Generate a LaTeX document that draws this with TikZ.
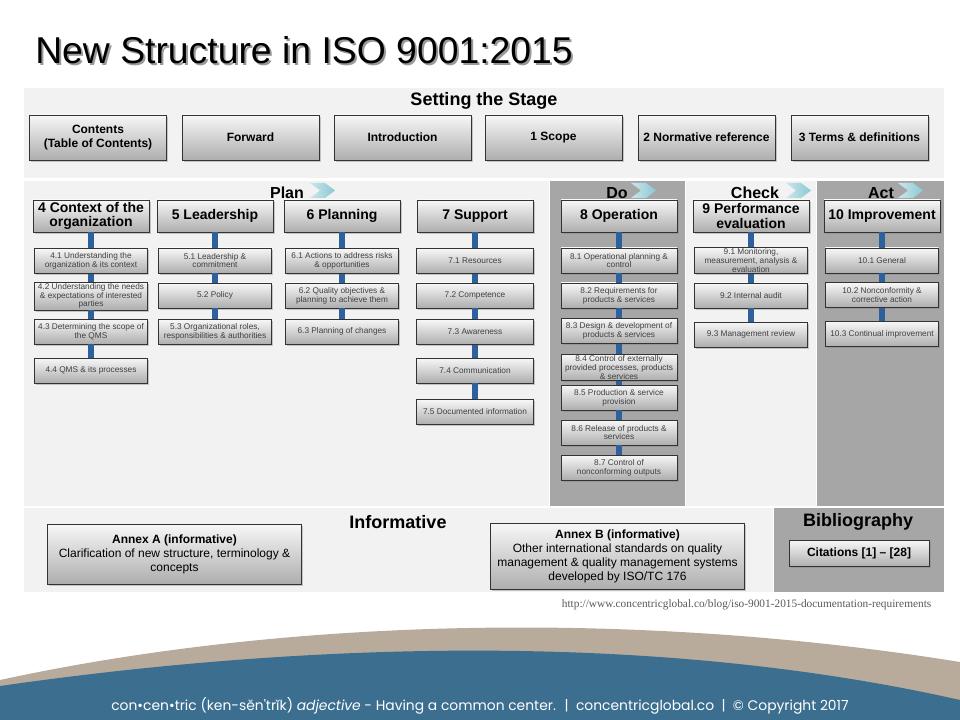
\documentclass[tikz,border=0pt]{standalone}
\usepackage{fontspec}
\setmainfont{Liberation Sans}
\newfontfamily\footfont{Poppins}
\newfontfamily\webfont{Liberation Serif}
\usetikzlibrary{shadows}
\definecolor{panellight}{RGB}{242,242,242}
\definecolor{paneldark}{RGB}{166,166,166}
\definecolor{spineblue}{RGB}{46,96,155}
\definecolor{chevroncol}{RGB}{140,200,212}
\definecolor{footblue}{RGB}{59,110,143}
\definecolor{footbeige}{RGB}{184,171,156}

\begin{document}
\begin{tikzpicture}
    [x=0.75pt,y=-0.75pt,
     box/.style={draw=black!80,line width=0.6pt,top color=black!3,bottom color=black!32,
       drop shadow={shadow xshift=1.2pt,shadow yshift=-1.2pt,opacity=0.4},
       align=center,inner sep=1pt},
     stagebox/.style={box,minimum width=102.75pt,minimum height=33.75pt,font=\fontsize{9}{10.5}\selectfont\bfseries},
     clause/.style={box,minimum width=87pt,minimum height=24pt,font=\fontsize{10.5}{11}\selectfont\bfseries},
     sub/.style={box,minimum width=85pt,minimum height=18.75pt,text=black!75,font=\fontsize{6.2}{6.6}\selectfont},
     annex/.style={box,minimum width=190pt,font=\fontsize{9}{10.5}\selectfont},
     spine/.style={spineblue,line width=4.5pt},
     heading/.style={font=\fontsize{13.5}{15}\selectfont\bfseries},
     phase/.style={font=\fontsize{12}{13}\selectfont\bfseries},
     chevron/.style={left color=chevroncol!45!white,right color=chevroncol}]

    \useasboundingbox (0,0) rectangle (960,720);
    \fill[white] (0,0) rectangle (960,720);

    \fill[panellight] (24,88) rectangle (944,178);
    \fill[panellight] (24,181) rectangle (549,506);
    \fill[paneldark] (550,181) rectangle (685,506);
    \fill[panellight] (686,181) rectangle (816,506);
    \fill[paneldark] (817,181) rectangle (944,506);
    \fill[panellight] (24,508) rectangle (773,592);
    \fill[paneldark] (774,508) rectangle (944,592);

    \node[anchor=base west,inner sep=0pt,font=\fontsize{28}{32}\selectfont,text=black!40] (title-shadow) at (37,66) {New Structure in ISO 9001:2015};
    \node[anchor=base west,inner sep=0pt,font=\fontsize{28}{32}\selectfont] (title) at (35,64) {New Structure in ISO 9001:2015};

    \node[heading] (stage) at (484,101) {Setting the Stage};
    \foreach \name/\x/\txt in {contents/98/{Contents\\(Table of Contents)}, forward/250.5/Forward,
        intro/402.5/Introduction, scope/553.5/1 Scope, normref/706.5/2 Normative reference,
        terms/859.5/3 Terms \& definitions}
      \node[stagebox] (\name) at (\x,137.5) {\txt};

    \foreach \name/\txt/\x/\cx in {plan/Plan/287/310, do/Do/617/631, check/Check/755/786, act/Act/881/898}
    {
      \node[phase] (\name) at (\x,193) {\txt};
      \shade[chevron] (\cx,183) -- ++(15,0) -- ++(10,7.5) -- ++(-10,7.5) -- ++(-15,0) -- ++(10,-7.5) -- cycle;
    }

    \foreach \name/\x/\txt in {4/91/{4 Context of the\\organization}, 5/215/5 Leadership, 6/342/6 Planning,
        7/475/7 Support, 8/619/8 Operation, 9/751/{9 Performance\\evaluation}, 10/882/10 Improvement}
      \node[clause] (C-\name) at (\x,216) {\txt};

    \foreach \name/\y/\txt in {1/261/{4.1 Understanding the\\organization \& its context},
        2/296/{4.2 Understanding the needs\\\& expectations of interested\\parties},
        3/331.5/{4.3 Determining the scope of\\the QMS}, 4/370.5/{4.4 QMS \& its processes}}
      \node[sub] (S-4-\name) at (C-4 |- 0,\y) {\txt};
    \foreach \name/\y/\txt in {1/260.5/{5.1 Leadership \&\\commitment}, 2/295.5/5.2 Policy,
        3/332/{5.3 Organizational roles,\\responsibilities \& authorities}}
      \node[sub] (S-5-\name) at (C-5 |- 0,\y) {\txt};
    \foreach \name/\y/\txt in {1/261/{6.1 Actions to address risks\\\& opportunities},
        2/295.5/{6.2 Quality objectives \&\\planning to achieve them}, 3/331.5/6.3 Planning of changes}
      \node[sub] (S-6-\name) at (C-6 |- 0,\y) {\txt};
    \foreach \name/\y/\txt in {1/261/7.1 Resources, 2/295.5/7.2 Competence, 3/332/7.3 Awareness,
        4/370.5/7.4 Communication, 5/412/7.5 Documented information}
      \node[sub,minimum width=88pt] (S-7-\name) at (C-7 |- 0,\y) {\txt};
    \foreach \name/\y/\txt in {1/260.5/{8.1 Operational planning \&\\control},
        2/295.5/{8.2 Requirements for\\products \& services}, 3/331/{8.3 Design \& development of\\products \& services},
        4/367.5/{8.4 Control of externally\\provided processes, products\\\& services},
        5/397.5/{8.5 Production \& service\\provision}, 6/432.5/{8.6 Release of products \&\\services},
        7/467.5/{8.7 Control of\\nonconforming outputs}}
      \node[sub,minimum width=87pt] (S-8-\name) at (C-8 |- 0,\y) {\txt};
    \foreach \name/\y/\txt in {1/260.5/{9.1 Monitoring,\\measurement, analysis \&\\evaluation},
        2/295.5/9.2 Internal audit, 3/334.5/9.3 Management review}
      \node[sub] (S-9-\name) at (C-9 |- 0,\y) {\txt};
    \foreach \name/\y/\txt in {1/260.5/10.1 General, 2/295/{10.2 Nonconformity \&\\corrective action},
        3/334/10.3 Continual improvement}
      \node[sub] (S-10-\name) at (C-10 |- 0,\y) {\txt};

    \foreach \col/\last in {4/4, 5/3, 6/3, 7/5, 8/7, 9/3, 10/3}
    {
      \draw[spine] (C-\col) -- (S-\col-1);
      \foreach \i [remember=\i as \prev (initially 1)] in {2,...,\last}
        \draw[spine] (S-\col-\prev) -- (S-\col-\i);
    }

    \node[heading] (informative) at (398,522) {Informative};
    \node[heading] (biblio) at (858,522) {Bibliography};
    \node[annex,minimum height=45pt] (annexA) at (174.5,554)
      {\textbf{Annex A (informative)}\\Clarification of new structure, terminology \&\\concepts};
    \node[annex,minimum height=50pt] (annexB) at (617.5,556.5)
      {\textbf{Annex B (informative)}\\Other international standards on quality\\management \& quality management systems\\developed by ISO/TC 176};
    \node[box,minimum width=105pt,minimum height=20pt,font=\fontsize{9}{10.5}\selectfont\bfseries] (citations) at (859,553.5)
      {Citations [1] – [28]};

    \node[anchor=east,text=black!65,font=\webfont\fontsize{8.5}{10}\selectfont] (source) at (936,605)
      {http://www.concentricglobal.co/blog/iso-9001-2015-documentation-requirements};

    \fill[footbeige] (0,680) .. controls (300,615) and (650,612) .. (960,662) -- (960,720) -- (0,720) -- cycle;
    \fill[footblue] (0,686) .. controls (300,643) and (650,630) .. (960,700) -- (960,720) -- (0,720) -- cycle;
    \node[text=white,font=\footfont\fontsize{10.4}{12}\selectfont] (tagline) at (480,706)
      {con•cen•tric (ken-sĕn'trĭk) \textit{adjective} - Having a common center. \ \textbar\ \ concentricglobal.co \ \textbar\ \ \textcopyright\ Copyright 2017};
\end{tikzpicture}
\end{document}
